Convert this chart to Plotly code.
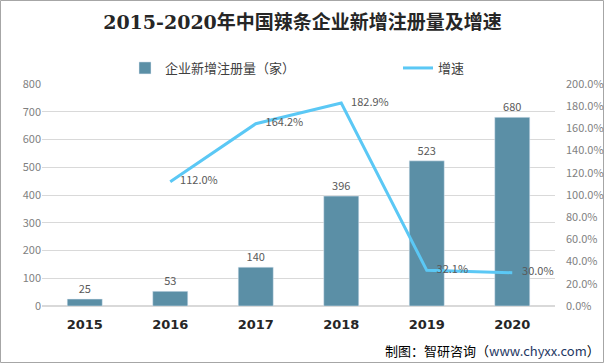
import plotly.graph_objects as go

years = ["2015", "2016", "2017", "2018", "2019", "2020"]
registrations = [25, 53, 140, 396, 523, 680]
growth_years = ["2016", "2017", "2018", "2019", "2020"]
growth = [112.0, 164.2, 182.9, 32.1, 30.0]

W, H = 605, 364
ml, mr, mt, mb = 42, 50, 84, 58
pw, ph = W - ml - mr, H - mt - mb

fig = go.Figure()
fig.add_trace(go.Bar(
    x=years, y=registrations, name="企业新增注册量（家）", legend="legend",
    marker_color="#5B8FA6", width=0.41,
    text=[str(v) for v in registrations], textposition="outside",
    textfont=dict(size=11, color="#595959"), cliponaxis=False,
))
fig.add_trace(go.Scatter(
    x=growth_years, y=growth, name="增速", yaxis="y2", mode="lines+text", legend="legend2",
    line=dict(color="#5BC8F5", width=3),
    text=["\u00a0\u00a0\u00a0\u00a0" + f"{v:.1f}%" for v in growth], textposition="middle right",
    textfont=dict(size=11, color="#595959"), cliponaxis=False,
))

font_cn = "Noto Sans CJK SC, Noto Sans, sans-serif"
legend_common = dict(orientation="h", xanchor="left", yanchor="middle",
                     y=1 + (mt - 68) / ph, bgcolor="rgba(0,0,0,0)",
                     font=dict(size=13, color="#404040"))
fig.update_layout(
    width=W, height=H,
    margin=dict(l=ml, r=mr, t=mt, b=mb, autoexpand=False),
    paper_bgcolor="white", plot_bgcolor="white",
    font=dict(family=font_cn, color="#595959"),
    title=dict(text="<b>2015-2020年中国辣条企业新增注册量及增速</b>",
               x=0.5, xanchor="center", y=1 - 22 / H, yanchor="middle",
               font=dict(size=19, color="#262626", family="DejaVu Serif, Noto Sans CJK SC, serif")),
    showlegend=True,
    legend=dict(x=(125 - ml) / pw, **legend_common),
    legend2=dict(x=(398 - ml) / pw, **legend_common),
    xaxis=dict(showgrid=False, showline=False, ticks="", automargin=False,
               ticklabelstandoff=9,
               tickfont=dict(size=13, color="#262626", family="DejaVu Sans, sans-serif"),
               tickprefix="<b>", ticksuffix="</b>"),
    yaxis=dict(range=[0, 800], dtick=100, showgrid=True, gridcolor="#D9D9D9",
               zeroline=True, zerolinecolor="#D9D9D9", showline=False, automargin=False,
               tickfont=dict(size=11, color="#7F7F7F")),
    yaxis2=dict(range=[0, 200], dtick=20, overlaying="y", side="right",
                showgrid=False, zeroline=False, showline=False, automargin=False,
                ticklabelstandoff=10,
                ticksuffix=".0%", tickfont=dict(size=11, color="#7F7F7F")),
    bargap=0.59,
)
fig.add_annotation(
    text="制图：智研咨询（<span style='color:#1F3864'>www.chyxx.com</span>）",
    xref="paper", yref="paper", x=(W - 3 - ml) / pw, y=-(350 - mt - ph) / ph,
    xanchor="right", yanchor="middle", showarrow=False,
    font=dict(size=13, color="#000000", family=font_cn),
)
fig.add_shape(type="rect", xref="paper", yref="paper",
              x0=-(ml - 0.5) / pw, x1=(W - ml - 1.5) / pw,
              y0=-(mb - 1.5) / ph, y1=1 + (mt - 0.5) / ph,
              line=dict(color="#A6A6A6", width=1), layer="below")
fig.write_html("out.html", config={"displayModeBar": False},
               post_script="document.body.style.margin='0px';")
